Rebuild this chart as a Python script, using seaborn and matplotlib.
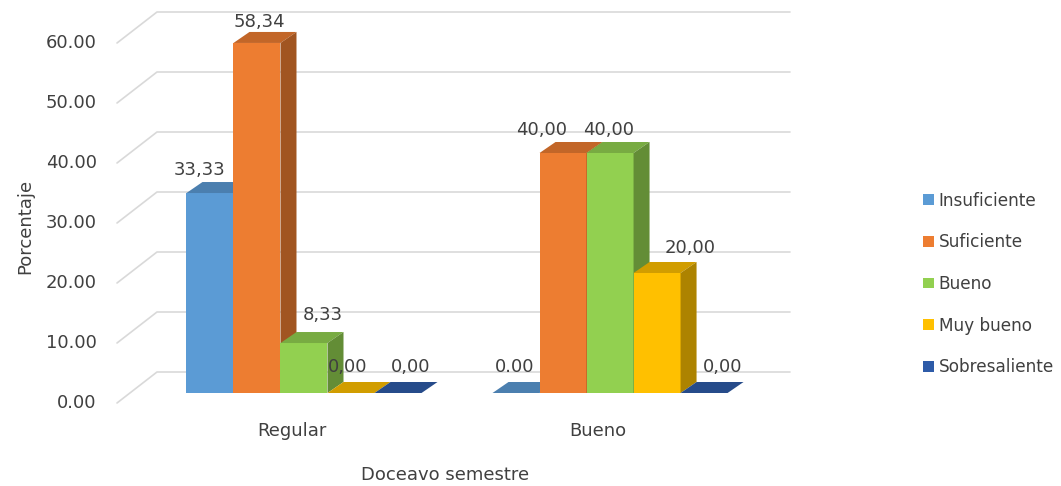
import pandas as pd
import numpy as np
import seaborn as sns
import matplotlib.pyplot as plt
import matplotlib.colors as mcolors
from matplotlib.patches import Polygon
from matplotlib.transforms import ScaledTranslation

# data
categorias = ["Regular", "Bueno"]
niveles = ["Insuficiente", "Suficiente", "Bueno", "Muy bueno", "Sobresaliente"]
insuficiente = [33.33, 0.00]
suficiente = [58.34, 40.00]
bueno = [8.33, 40.00]
muy_bueno = [0.00, 20.00]
sobresaliente = [0.00, 0.00]
# data labels as printed in the chart (one uses a period)
etiquetas = [["33,33", "0.00"], ["58,34", "40,00"], ["8,33", "40,00"],
             ["0,00", "20,00"], ["0,00", "0,00"]]
yticks = [0, 10, 20, 30, 40, 50, 60]

colores = ["#5B9BD5", "#ED7D31", "#92D050", "#FFC000", "#2E5BA8"]

valores = [insuficiente, suficiente, bueno, muy_bueno, sobresaliente]
df = pd.DataFrame({
    "Semestre": [c for _ in niveles for c in categorias],
    "Nivel": [n for n in niveles for _ in categorias],
    "Porcentaje": [v for serie in valores for v in serie],
})

sns.set_style("white")
plt.rcParams["font.family"] = ["DejaVu Sans"]
TXT = "#404040"
FS = 13

W, H = 1061, 486
fig, ax = plt.subplots(figsize=(W / 100, H / 100), dpi=100)
# axes box in pixels: left 117, right 790, bottom (value 0) 393, top 12
ax.set_position([117 / W, (H - 393) / H, 673 / W, 381 / H])

sns.barplot(data=df, x="Semestre", y="Porcentaje", hue="Nivel",
            order=categorias, hue_order=niveles, palette=colores,
            width=0.768, saturation=1, errorbar=None, linewidth=0, ax=ax)

ax.set_xlim(-0.611, 1.588)
ax.set_ylim(0, 63.5)

px_x = 673 / (1.588 + 0.611)   # pixels per x unit
px_y = 381 / 63.5              # pixels per y unit
DX, DY = 16 / px_x, 11 / px_y  # bar depth
WX, WY = 40 / px_x, 21 / px_y  # back wall offset

def shade(c, f):
    r, g, b = mcolors.to_rgb(c)
    return (r * f, g * f, b * f)

# back wall gridlines with the slanted side-wall part
for v in yticks:
    x0 = ax.get_xlim()[0]
    ax.plot([x0, x0 + WX, ax.get_xlim()[1]],
            [v - 10 / px_y, v + WY, v + WY],
            color="#D9D9D9", lw=1.2, clip_on=False, zorder=1)

# per-label offsets in pixels (dx, dy), like Excel placed them
lab_dx = [[-10, -1], [2, -21], [19, -1], [-3, 33], [13, 19]]
lab_dy = [[23, 26], [21, 23], [28, 23], [26, 25], [26, 26]]

z = 3
for ci in range(len(categorias)):
    for hi, cont in enumerate(ax.containers):
        bar = cont.patches[ci]
        col = colores[hi]
        x1 = bar.get_x()
        x2 = x1 + bar.get_width()
        h = bar.get_height()
        bar.set_zorder(z)
        top = Polygon([(x1, h), (x2, h), (x2 + DX, h + DY), (x1 + DX, h + DY)],
                      closed=True, facecolor=shade(col, 0.82), edgecolor="none",
                      zorder=z + 0.1, clip_on=False)
        side = Polygon([(x2, 0), (x2, h), (x2 + DX, h + DY), (x2 + DX, DY)],
                       closed=True, facecolor=shade(col, 0.68), edgecolor="none",
                       zorder=z + 0.2, clip_on=False)
        ax.add_patch(top)
        if h > 0:
            ax.add_patch(side)
        ax.annotate(etiquetas[hi][ci], ((x1 + x2) / 2, h),
                    xytext=(lab_dx[hi][ci] * 0.72, lab_dy[hi][ci] * 0.72),
                    textcoords="offset points", ha="center", va="center",
                    fontsize=FS, color=TXT, zorder=50)
        z += 1

ax.set_yticks(yticks)
ax.set_yticklabels([f"{v:.2f}" for v in yticks])
ax.tick_params(axis="y", length=0, pad=14.5, labelsize=FS, labelcolor=TXT)
ax.tick_params(axis="x", length=0, pad=21, labelsize=FS, labelcolor=TXT)
for lab in ax.get_yticklabels():
    lab.set_transform(lab.get_transform() + ScaledTranslation(0, -0.08, fig.dpi_scale_trans))
for lab in ax.get_xticklabels():
    lab.set_transform(lab.get_transform() + ScaledTranslation(-0.12, 0, fig.dpi_scale_trans))

ax.set_xlabel("Doceavo semestre", fontsize=FS, color=TXT)
ax.set_ylabel("Porcentaje", fontsize=FS, color=TXT)
ax.xaxis.set_label_coords((445 - 117) / 673, (393 - 466) / 381)
ax.yaxis.set_label_coords((34 - 117) / 673, (393 - 226) / 381)

sns.despine(ax=ax, left=True, bottom=True)

sns.move_legend(ax, "center left", bbox_to_anchor=((915 - 117) / 673, (393 - 284) / 381),
                frameon=False, title=None, handlelength=0.6, handleheight=0.6,
                handletextpad=0.3, labelspacing=1.4, borderpad=0, fontsize=12.2)
for t in ax.get_legend().get_texts():
    t.set_color(TXT)

fig.savefig("out.png", dpi=100)
